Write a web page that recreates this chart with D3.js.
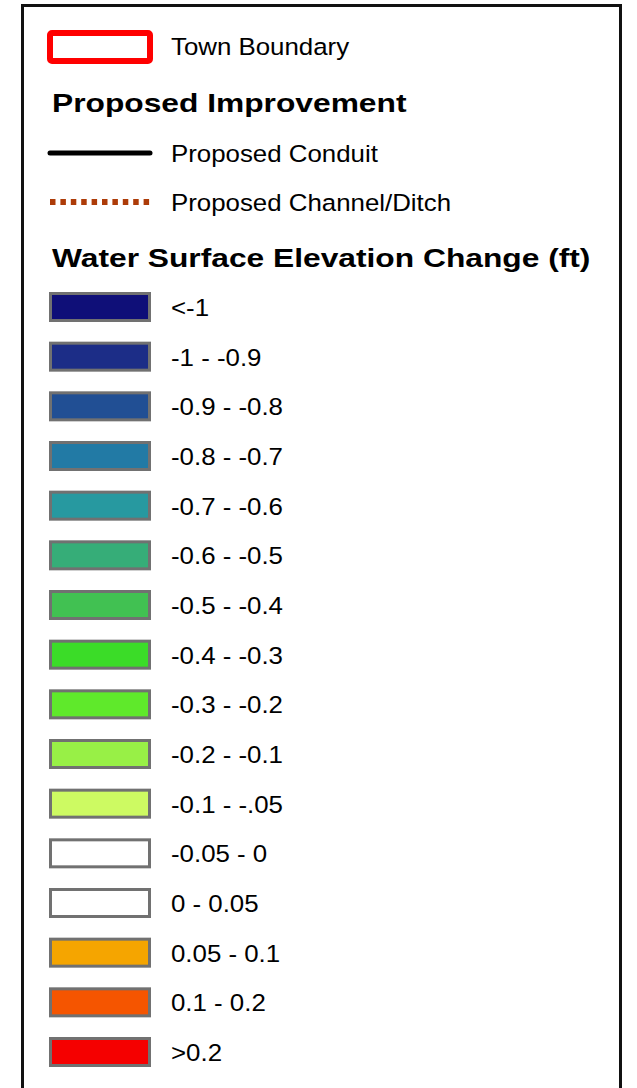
<!DOCTYPE html>
<html>
<head>
<meta charset="utf-8">
<script src="https://cdn.jsdelivr.net/npm/d3@7"></script>
<style>
  html, body { margin: 0; padding: 0; background: #fff; }
  svg { display: block; }
  text { font-family: "Liberation Sans", Arial, sans-serif; fill: #000; }
</style>
</head>
<body>
<svg id="chart" width="637" height="1088"></svg>
<script>
// ---- data ----
const boundaryLabel = "Town Boundary";
const improvementTitle = "Proposed Improvement";
const improvementLabels = ["Proposed Conduit", "Proposed Channel/Ditch"];
const improvementColors = ["#000000", "#ad3c08"];
const changeTitle = "Water Surface Elevation Change (ft)";
const changeClasses = [
  "<-1", "-1 - -0.9", "-0.9 - -0.8", "-0.8 - -0.7", "-0.7 - -0.6",
  "-0.6 - -0.5", "-0.5 - -0.4", "-0.4 - -0.3", "-0.3 - -0.2", "-0.2 - -0.1",
  "-0.1 - -.05", "-0.05 - 0", "0 - 0.05", "0.05 - 0.1", "0.1 - 0.2", ">0.2"
];
const changeColors = [
  "#0f0f78", "#1c2d87", "#214f94", "#227aa5", "#2799a0",
  "#36ad78", "#41c152", "#3bdc28", "#5fe92b", "#98f046",
  "#cdfa62", "#ffffff", "#ffffff", "#f5a500", "#f55500", "#f50000"
];

// ---- layout ----
const svg = d3.select("#chart");
const regSize = 23.5, regSx = 1.1;
const boldSize = 25, boldSx = 1.27;

function label(x, y, txt, bold) {
  svg.append("text")
    .attr("transform", `translate(${x},${y}) scale(${bold ? boldSx : regSx},1)`)
    .attr("font-size", bold ? boldSize : regSize)
    .attr("font-weight", bold ? "bold" : "normal")
    .text(txt);
}

// frame (open at bottom)
svg.append("path")
  .attr("d", "M22.5,1088 L22.5,5.5 L620.5,5.5 L620.5,1088")
  .attr("fill", "none").attr("stroke", "#111").attr("stroke-width", 3);

// town boundary
svg.append("rect")
  .attr("x", 50).attr("y", 33).attr("width", 100).attr("height", 28)
  .attr("rx", 2).attr("fill", "#fff").attr("stroke", "#ff0000").attr("stroke-width", 6);
label(171, 55, boundaryLabel, false);

label(52, 112, improvementTitle, true);

// improvement lines
const impY = d3.scalePoint().domain(improvementLabels).range([153, 202]);
const lineX = d3.scaleLinear().domain([0, 1]).range([50, 150]);
svg.selectAll("line.imp").data(improvementLabels).join("line")
  .attr("class", "imp")
  .attr("x1", lineX(0))
  .attr("x2", lineX(1))
  .attr("y1", d => impY(d)).attr("y2", d => impY(d))
  .attr("stroke", (d, i) => improvementColors[i])
  .attr("stroke-width", (d, i) => i === 0 ? 5 : 6)
  .attr("stroke-linecap", (d, i) => i === 0 ? "round" : "butt")
  .attr("stroke-dasharray", (d, i) => i === 0 ? null : "5.5 4.9");
improvementLabels.forEach(d => label(171, impY(d) + 9, d, false));

label(52, 267, changeTitle, true);

// swatches
const y = d3.scalePoint().domain(changeClasses).range([307, 1052]);
const color = d3.scaleOrdinal().domain(changeClasses).range(changeColors);
svg.selectAll("rect.sw").data(changeClasses).join("rect")
  .attr("class", "sw")
  .attr("x", 50.5).attr("y", d => y(d) - 13.5)
  .attr("width", 99).attr("height", 27)
  .attr("fill", d => color(d))
  .attr("stroke", "#717171").attr("stroke-width", 3);
changeClasses.forEach(d => label(171, y(d) + 9, d, false));
</script>
</body>
</html>
